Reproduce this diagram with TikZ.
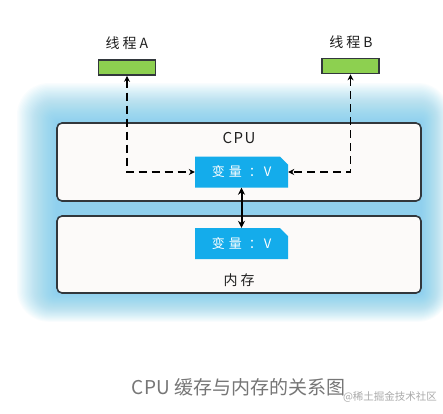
\documentclass[tikz,border=0pt]{standalone}
\usepackage{fontspec}
\setmainfont{Noto Sans CJK SC}
\usetikzlibrary{arrows.meta,shapes.misc}
\definecolor{varblue}{RGB}{20,172,235}
\definecolor{thrgreen}{RGB}{141,208,80}
\definecolor{glowblue}{RGB}{105,198,238}
\definecolor{boxfill}{RGB}{252,250,249}
\definecolor{edgegray}{RGB}{50,55,60}
\definecolor{capgray}{RGB}{118,118,118}
\definecolor{wmgray}{RGB}{170,170,170}
\tikzset{
  panel/.style={draw=edgegray,line width=1.6pt,fill=boxfill,rounded corners=5pt,minimum width=364pt,inner sep=0pt},
  varbox/.style={chamfered rectangle,chamfered rectangle corners=north east,chamfered rectangle xsep=5pt,chamfered rectangle ysep=3pt,fill=varblue,text=white,minimum width=93pt,minimum height=31pt,inner sep=0pt,font=\fontsize{13}{15}\selectfont},
  thread/.style={draw=edgegray,line width=1.6pt,fill=thrgreen,minimum width=57pt,minimum height=15pt,inner sep=0pt},
  lbl/.style={text=black!88,font=\fontsize{14}{16}\selectfont,inner sep=0pt},
  dashlink/.style={line width=1.9pt,dash pattern=on 8pt off 5pt,{Stealth[length=6pt,width=6pt]}-{Stealth[length=6pt,width=6pt]}},
  solidlink/.style={line width=2pt,{Stealth[length=7pt,width=7pt]}-{Stealth[length=7pt,width=7pt]}}
}
\begin{document}
\begin{tikzpicture}[x=1pt,y=-1pt]
\useasboundingbox (0,0) rectangle (443,413);
\fill[white] (0,0) rectangle (443,413);
% glow
\foreach \r in {1,...,32} {
  \fill[glowblue,opacity=0.034,rounded corners=\r pt] (57-\r*1.25,123-\r*1.25) rectangle (421+\r*0.9,293+\r*0.9);
}
% panels
\node[panel,minimum height=78pt] (cpu) at (239,162) {};
\node[panel,minimum height=77pt] (mem) at (239,254.5) {};
\node[lbl,font=\fontsize{15}{17}\selectfont] (cpulbl) at (239,138) {C\hspace{1.5pt}P\hspace{1.5pt}U};
\node[lbl] (memlbl) at (239,280) {内\hspace{3pt}存};
% variable boxes
\node[varbox] (vc) at (241.5,172) {变\hspace{4pt}量\hspace{7pt}：\hspace{2pt}V};
\node[varbox] (vm) at (241.5,243.5) {变\hspace{4pt}量\hspace{7pt}：\hspace{2pt}V};
% threads
\node[thread] (ta) at (127,67.5) {};
\node[thread] (tb) at (350.5,66) {};
\node[lbl] (tal) at (127,43) {线\hspace{3pt}程\hspace{3pt}A};
\node[lbl] (tbl) at (351,42) {线\hspace{3pt}程\hspace{3pt}B};
% connectors
\draw[dashlink] (ta.south) |- (vc.west);
\draw[dashlink] (tb.south) |- (vc.east);
\draw[solidlink] (vc.south) -- (vm.north);
% caption
\node[text=capgray,font=\fontsize{19}{22}\selectfont,inner sep=0pt] (cap) at (238.5,387) {CPU 缓存与内存的关系图};
\node[text=wmgray,font=\fontsize{10.5}{12}\selectfont,inner sep=0pt] (wm) at (390,397) {@稀土掘金技术社区};
\end{tikzpicture}
\end{document}
